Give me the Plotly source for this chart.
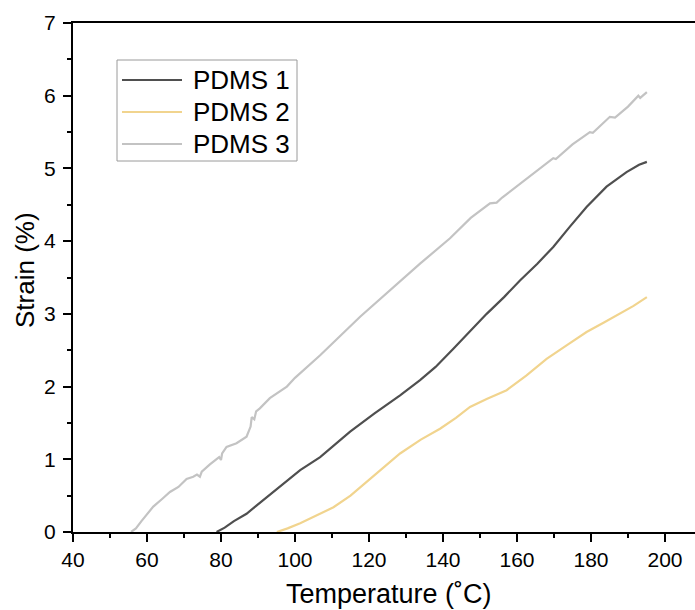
import plotly.graph_objects as go

# ---- data ----
t1 = [78.8, 81.0, 83.5, 86.9, 89.5, 92.4, 96.5, 101.4, 106.8, 114.9, 121.5, 128.4, 133.8, 138.0, 142.8,
      147.5, 151.8, 156.5, 160.8, 165.5, 169.8, 174.3, 178.8, 184.2, 189.6, 193.0, 195.1]
s1 = [0.0, 0.06, 0.15, 0.25, 0.36, 0.48, 0.66, 0.85, 1.03, 1.38, 1.63, 1.88, 2.09, 2.27, 2.52,
      2.77, 3.0, 3.23, 3.46, 3.69, 3.92, 4.20, 4.47, 4.75, 4.95, 5.05, 5.09]

t2 = [95.1, 98.0, 101.4, 105.5, 110.4, 115.0, 119.4, 124.0, 128.4, 134.0, 139.2, 143.5, 147.3, 151.8,
      157.2, 162.5, 168.0, 173.5, 178.8, 183.5, 187.8, 191.5, 195.1]
s2 = [0.0, 0.05, 0.12, 0.22, 0.34, 0.50, 0.69, 0.89, 1.08, 1.27, 1.42, 1.57, 1.72, 1.83,
      1.95, 2.15, 2.38, 2.57, 2.75, 2.88, 3.0, 3.11, 3.23]

t3 = [55.7, 57.0, 58.5, 60.0, 61.7, 64.0, 66.2, 68.5, 70.7, 72.5, 73.5, 74.3, 74.8, 77.0, 79.5, 80.0,
      80.3, 81.5, 84.2, 86.9, 88.0, 88.3, 89.0, 89.5, 90.5, 93.2, 97.8, 100.0, 106.8, 117.6, 133.8,
      141.9, 147.5, 152.7, 154.5, 156.0, 162.6, 168.0, 169.8, 170.5, 175.0, 179.7, 180.5, 185.1,
      186.5, 190.0, 192.8, 193.3, 195.1]
s3 = [0.0, 0.05, 0.15, 0.25, 0.35, 0.45, 0.55, 0.62, 0.73, 0.76, 0.79, 0.76, 0.83, 0.93, 1.03, 0.99,
      1.08, 1.17, 1.22, 1.31, 1.45, 1.58, 1.55, 1.66, 1.70, 1.84, 2.0, 2.12, 2.43, 2.96, 3.69,
      4.04, 4.32, 4.52, 4.53, 4.60, 4.86, 5.06, 5.14, 5.13, 5.33, 5.50, 5.49, 5.71,
      5.70, 5.85, 6.0, 5.97, 6.05]

names = ["PDMS 1", "PDMS 2", "PDMS 3"]
colors = ["#4f4f4f", "#f1d48e", "#c3c3c3"]
x_title = "Temperature (˚C)"
y_title = "Strain (%)"

W, H = 695, 610
L, R, T, B = 73, 0, 23, 78
PW, PH = W - L - R, H - T - B

def px(x):
    return (x - L) / PW

def py(y):
    return (H - B - y) / PH

fig = go.Figure()
for t, s, n, c in zip([t1, t2, t3], [s1, s2, s3], names, colors):
    fig.add_trace(go.Scatter(x=t, y=s, mode="lines", name=n, showlegend=False,
                             line=dict(color=c, width=2.2)))

font = "Liberation Sans, Arial, sans-serif"

# custom legend
shapes = [dict(type="rect", xref="paper", yref="paper", x0=px(117), x1=px(297), y0=py(60), y1=py(161),
               line=dict(color="#9a9a9a", width=1), fillcolor="white", layer="below")]
annotations = []
for i, (n, c) in enumerate(zip(names, colors)):
    yy = 80 + 32 * i
    shapes.append(dict(type="line", xref="paper", yref="paper", x0=px(122), x1=px(182), y0=py(yy), y1=py(yy),
                       line=dict(color=c, width=2.2)))
    annotations.append(dict(xref="paper", yref="paper", x=px(191), y=py(yy), text=n, showarrow=False,
                            xanchor="left", yanchor="middle", font=dict(family=font, size=26, color="black")))

# axis titles
annotations.append(dict(xref="paper", yref="paper", x=px(389), y=py(594), text=x_title, showarrow=False,
                        xanchor="center", yanchor="middle", font=dict(family=font, size=27, color="black")))
annotations.append(dict(xref="paper", yref="paper", x=px(25), y=py(270), text=y_title, showarrow=False,
                        textangle=-90, xanchor="center", yanchor="middle",
                        font=dict(family=font, size=26, color="black")))

fig.update_layout(
    width=W, height=H,
    margin=dict(l=L, r=R, t=T, b=B, autoexpand=False),
    paper_bgcolor="white", plot_bgcolor="white",
    font=dict(family=font, color="black"),
    shapes=shapes, annotations=annotations,
    xaxis=dict(range=[40, 40 + PW / 3.7], tickvals=[40, 60, 80, 100, 120, 140, 160, 180, 200],
               ticks="outside", ticklen=8, tickwidth=2, tickcolor="black",
               showline=True, linewidth=2, linecolor="black", mirror=True,
               showgrid=False, zeroline=False, automargin=False,
               minor=dict(ticks="outside", ticklen=4, tickwidth=2, tickcolor="black", dtick=10, tick0=0, showgrid=False),
               tickfont=dict(family=font, size=21)),
    yaxis=dict(range=[0, 7], tickvals=[0, 1, 2, 3, 4, 5, 6, 7],
               ticks="outside", ticklen=8, tickwidth=2, tickcolor="black",
               showline=True, linewidth=2, linecolor="black", mirror=False,
               showgrid=False, zeroline=False, automargin=False, ticklabelstandoff=3,
               minor=dict(ticks="outside", ticklen=4, tickwidth=2, tickcolor="black", dtick=0.5, tick0=0, showgrid=False),
               tickfont=dict(family=font, size=21)),
)

fig.write_html("out.html", config={"displayModeBar": False},
               post_script="document.body.style.margin='0';")
